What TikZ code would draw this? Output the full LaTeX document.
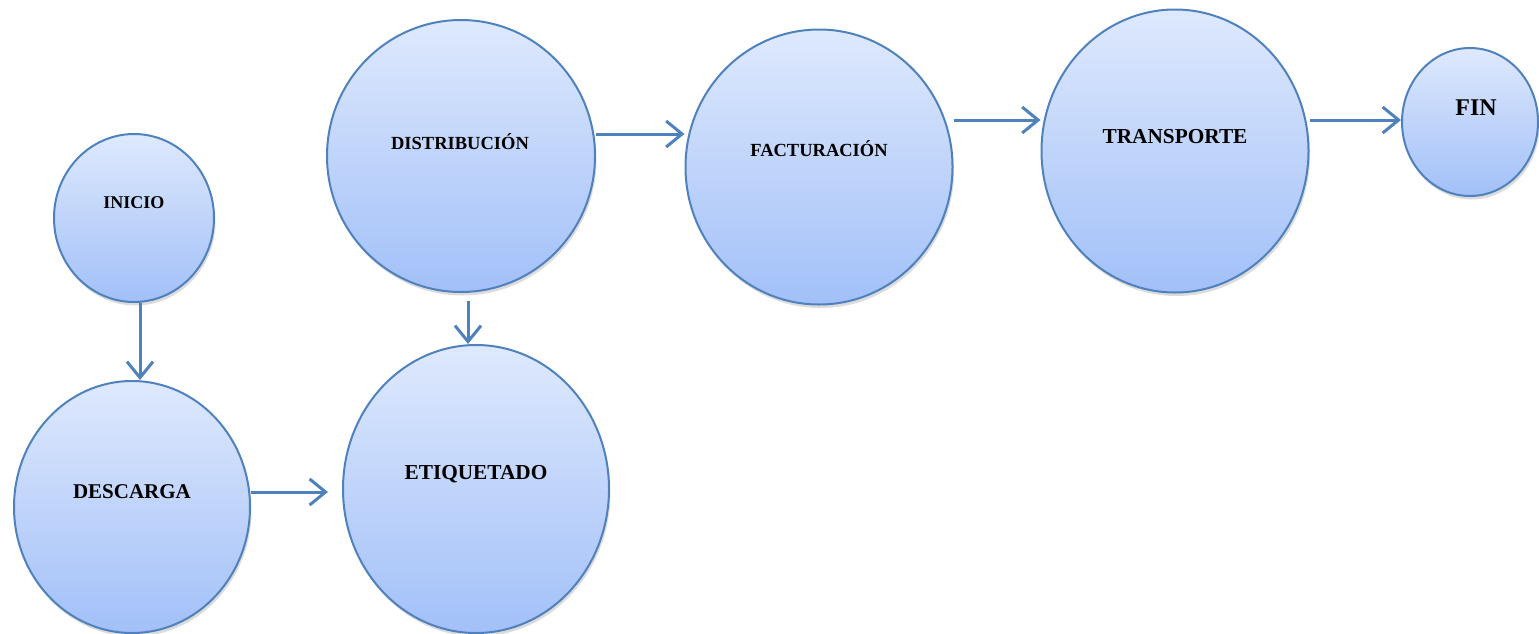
\documentclass[tikz,border=0pt]{standalone}
\usepackage{fontspec}
\setmainfont{Liberation Serif}
\usetikzlibrary{shapes.geometric,arrows.meta,shadows}
\definecolor{edge}{HTML}{4F81BD}
\definecolor{topc}{HTML}{DEE9FD}
\definecolor{botc}{HTML}{A2C0F8}
\tikzset{
  bubble/.style={ellipse, draw=edge, line width=2pt, top color=topc, bottom color=botc, inner sep=0pt,
     drop shadow={opacity=0.28, shadow xshift=1.5pt, shadow yshift=-3.5pt}},
  lbl/.style={font=\bfseries, text=black, inner sep=0pt},
  arr/.style={draw=edge, line width=3pt, -{Straight Barb[length=16pt,width=26pt,line width=3pt]}}
}
\begin{document}
\begin{tikzpicture}[x=1pt,y=-1pt]
\useasboundingbox (0,0) rectangle (1539,633);
\node[bubble, minimum width=160, minimum height=168] (inicio) at (134,218) {};
\node[bubble, minimum width=236, minimum height=252] (descarga) at (132,507) {};
\node[bubble, minimum width=266, minimum height=288] (etiq) at (476,489) {};
\node[bubble, minimum width=268, minimum height=272] (dist) at (461,156) {};
\node[bubble, minimum width=267, minimum height=275] (fact) at (819,167) {};
\node[bubble, minimum width=267, minimum height=283] (trans) at (1175,151) {};
\node[bubble, minimum width=136, minimum height=148] (fin) at (1470,122) {};

\node[lbl, font=\bfseries\fontsize{18}{20}\selectfont] (inicio-t) at (134,203) {INICIO};
\node[lbl, font=\bfseries\fontsize{21}{24}\selectfont] (descarga-t) at (132,492) {DESCARGA};
\node[lbl, font=\bfseries\fontsize{21.3}{24}\selectfont] (etiq-t) at (476,474) {ETIQUETADO};
\node[lbl, font=\bfseries\fontsize{18.5}{22}\selectfont] (dist-t) at (460,142) {DISTRIBUCIÓN};
\node[lbl, font=\bfseries\fontsize{18.5}{22}\selectfont] (fact-t) at (819,149) {FACTURACIÓN};
\node[lbl, font=\bfseries\fontsize{21.3}{24}\selectfont] (trans-t) at (1175,137) {TRANSPORTE};
\node[lbl, font=\bfseries\fontsize{24}{26}\selectfont] (fin-t) at (1476,108) {FIN};

\coordinate (descarga-end) at (328,492);
\draw[arr] (inicio.south -| 140,0) -- (descarga.north -| 140,0);
\draw[arr] ([yshift=-8pt]dist.south -| 468,0) -- (etiq.north -| 468,0);
\draw[arr] (descarga.east |- descarga-end) -- (descarga-end);
\draw[arr] (dist.east |- 0,134) -- (fact.west |- 0,134);
\draw[arr] (fact.east |- 0,120) -- (trans.west |- 0,120);
\draw[arr] (trans.east |- 0,120) -- (fin.west |- 0,120);
\end{tikzpicture}
\end{document}
